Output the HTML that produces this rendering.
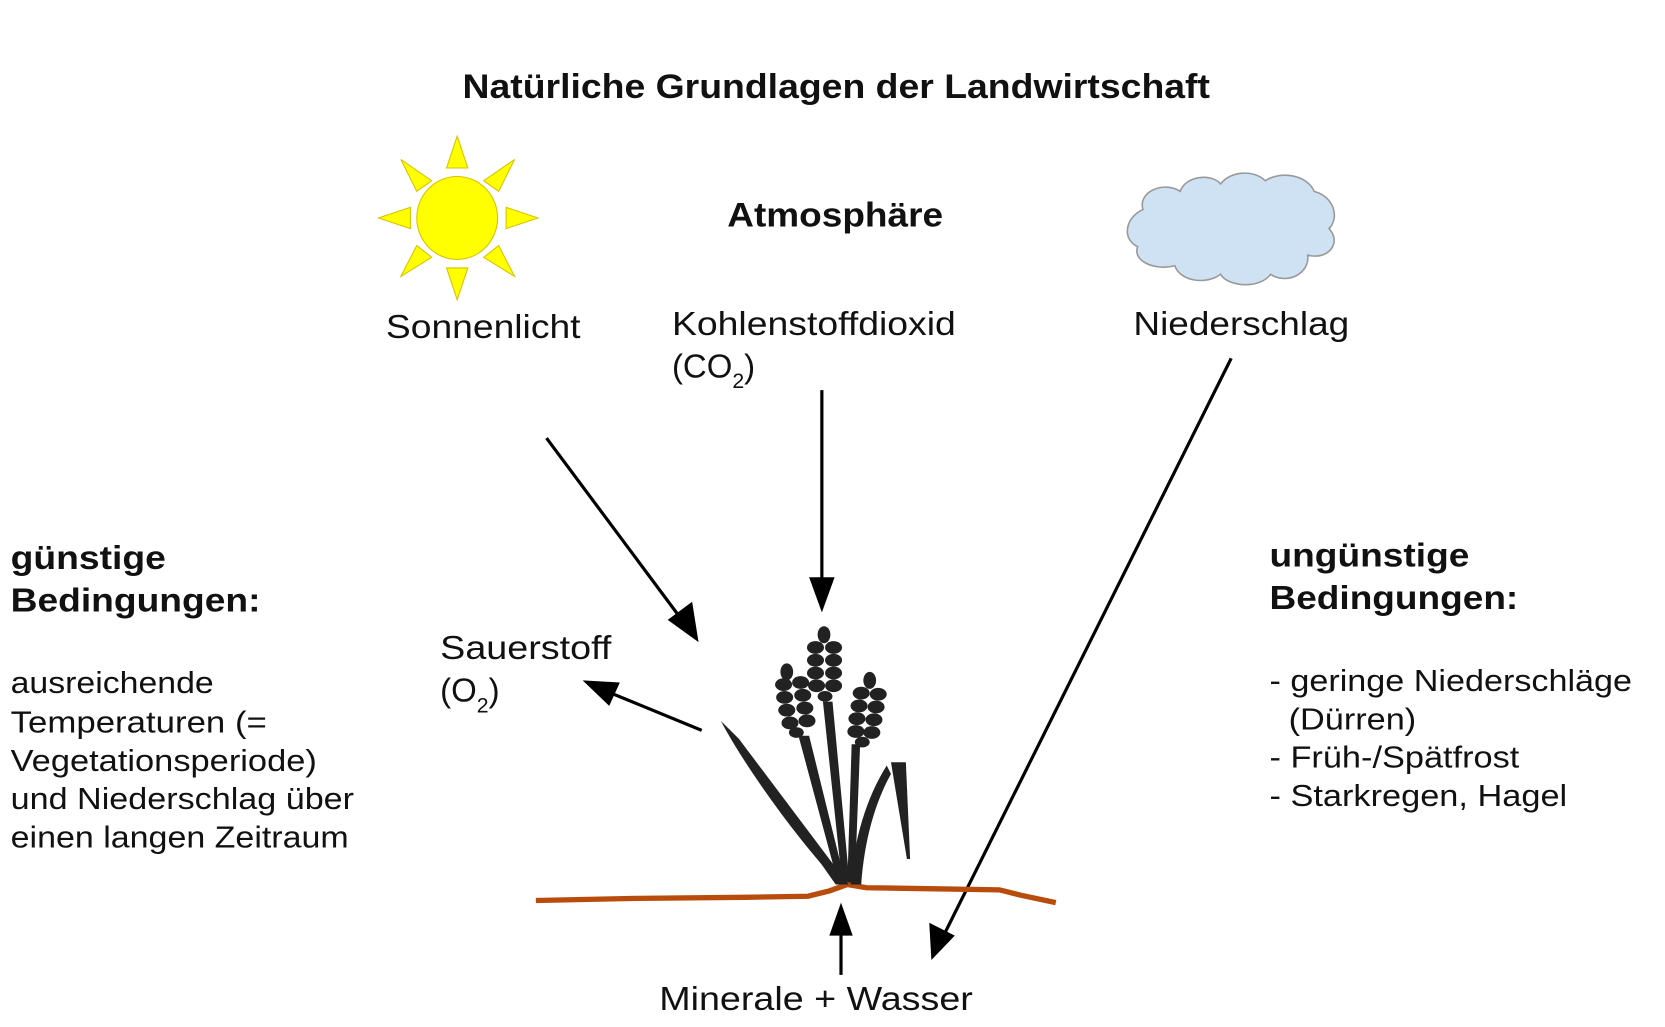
<!DOCTYPE html>
<html><head><meta charset="utf-8"><style>
html,body{margin:0;padding:0;background:#fff;}
svg{display:block;}
text{font-family:"Liberation Sans",Arial,sans-serif;fill:#111;}
.b{font-weight:bold;}
</style></head><body>
<svg width="1665" height="1027" viewBox="0 0 1566 966" preserveAspectRatio="none" xmlns="http://www.w3.org/2000/svg">
<g lengthAdjust="spacingAndGlyphs">
<text class="b" x="435" y="92" font-size="32" textLength="703" lengthAdjust="spacingAndGlyphs">Natürliche Grundlagen der Landwirtschaft</text>
<text class="b" x="684" y="213" font-size="32" textLength="203" lengthAdjust="spacingAndGlyphs">Atmosphäre</text>
</g>

<!-- sun -->
<g fill="#ffff00" stroke="#d9c200" stroke-width="1">
<ellipse cx="430" cy="205" rx="38" ry="39"/>
<polygon points="430,128 420,158 440,158"/>
<polygon points="430,282 420,252 440,252"/>
<polygon points="356,205 386,195 386,215"/>
<polygon points="506,205 476,195 476,215"/>
<polygon points="377,150 406,170 392,180"/>
<polygon points="484,150 455,170 469,180"/>
<polygon points="377,260 392,231 406,242"/>
<polygon points="484,260 469,231 455,242"/>
</g>

<!-- cloud -->
<path d="M1075,197 C1070,180 1095,170 1110,180 C1115,165 1140,163 1148,173 C1158,160 1180,160 1190,170 C1205,160 1230,165 1236,180 C1255,185 1260,205 1250,215 C1262,228 1250,245 1230,240 C1232,258 1210,268 1195,258 C1185,272 1155,270 1148,258 C1135,268 1110,265 1105,250 C1085,255 1065,245 1070,232 C1055,225 1058,205 1075,197 Z" fill="#cfe2f3" stroke="#999" stroke-width="1.5"/>

<text x="363" y="318" font-size="31" textLength="183" lengthAdjust="spacingAndGlyphs">Sonnenlicht</text>
<text x="632" y="315" font-size="31" textLength="267" lengthAdjust="spacingAndGlyphs">Kohlenstoffdioxid</text>
<text x="632" y="355" font-size="31">(CO<tspan font-size="20" dy="10">2</tspan><tspan dy="-10">)</tspan></text>
<text x="1066" y="315" font-size="31" textLength="203" lengthAdjust="spacingAndGlyphs">Niederschlag</text>

<text x="414" y="620" font-size="31" textLength="161" lengthAdjust="spacingAndGlyphs">Sauerstoff</text>
<text x="414" y="660" font-size="31">(O<tspan font-size="20" dy="10">2</tspan><tspan dy="-10">)</tspan></text>

<text class="b" x="10" y="535" font-size="31" textLength="146" lengthAdjust="spacingAndGlyphs">günstige</text>
<text class="b" x="10" y="575" font-size="31" textLength="235" lengthAdjust="spacingAndGlyphs">Bedingungen:</text>
<g font-size="29">
<text x="10" y="652" textLength="191" lengthAdjust="spacingAndGlyphs">ausreichende</text>
<text x="10" y="689" textLength="241" lengthAdjust="spacingAndGlyphs">Temperaturen (=</text>
<text x="10" y="725" textLength="288" lengthAdjust="spacingAndGlyphs">Vegetationsperiode)</text>
<text x="10" y="761" textLength="323" lengthAdjust="spacingAndGlyphs">und Niederschlag über</text>
<text x="10" y="797" textLength="318" lengthAdjust="spacingAndGlyphs">einen langen Zeitraum</text>
</g>

<text class="b" x="1194" y="533" font-size="31" textLength="188" lengthAdjust="spacingAndGlyphs">ungünstige</text>
<text class="b" x="1194" y="573" font-size="31" textLength="234" lengthAdjust="spacingAndGlyphs">Bedingungen:</text>
<g font-size="29">
<text x="1194" y="650" textLength="341" lengthAdjust="spacingAndGlyphs">- geringe Niederschläge</text>
<text x="1212" y="686" textLength="120" lengthAdjust="spacingAndGlyphs">(Dürren)</text>
<text x="1194" y="722" textLength="235" lengthAdjust="spacingAndGlyphs">- Früh-/Spätfrost</text>
<text x="1194" y="758" textLength="280" lengthAdjust="spacingAndGlyphs">- Starkregen, Hagel</text>
</g>

<text x="620" y="950" font-size="31" textLength="295" lengthAdjust="spacingAndGlyphs">Minerale + Wasser</text>

<!-- arrows -->
<g stroke="#000" stroke-width="3" fill="none">
<line x1="514" y1="412" x2="645" y2="588"/>
<line x1="773" y1="367" x2="773" y2="555"/>
<line x1="1158" y1="337" x2="885" y2="885"/>
<line x1="660" y1="687" x2="570" y2="650"/>
<line x1="791" y1="917" x2="791" y2="870"/>
</g>
<g fill="#000">
<polygon points="657,604 628,583 651,566"/>
<polygon points="773,576 761,543 785,543"/>
<polygon points="876,903 874,868 898,880"/>
<polygon points="548,640 583,642 573,664"/>
<polygon points="791,849 780,880 802,880"/>
</g>

<!-- ground -->
<path d="M504,847 L600,845 L700,844 L760,843 L780,838 L797,832 L815,835 L880,836 L940,837 L960,842 L993,849" stroke="#b84c0c" stroke-width="5" fill="none"/>

<!-- plant -->
<g fill="#222">
<path d="M678,678 C700,720 750,790 790,832 L798,832 C760,785 710,720 678,678 Z" />
<polygon points="678,678 695,695 798,832 786,832"/>
<polygon points="751,692 761,692 795,830 788,830"/>
<polygon points="774,660 783,660 799,830 792,830"/>
<polygon points="801,700 809,700 804,830 797,830"/>
<path d="M834,720 C815,750 803,790 800,832 L810,832 C813,790 823,755 838,728 Z"/>
<polygon points="838,717 852,717 856,808 853,808"/>
</g>
<g fill="#222">
<ellipse cx="740" cy="632" rx="6" ry="8"/>
<ellipse cx="737" cy="644" rx="8" ry="6"/><ellipse cx="753" cy="642" rx="8" ry="6"/>
<ellipse cx="738" cy="656" rx="8" ry="6"/><ellipse cx="755" cy="654" rx="8" ry="6"/>
<ellipse cx="740" cy="668" rx="8" ry="6"/><ellipse cx="757" cy="666" rx="8" ry="6"/>
<ellipse cx="743" cy="680" rx="8" ry="6"/><ellipse cx="759" cy="678" rx="8" ry="6"/>
<ellipse cx="749" cy="689" rx="7" ry="5"/>

<ellipse cx="775" cy="597" rx="6" ry="8"/>
<ellipse cx="767" cy="609" rx="8" ry="6"/><ellipse cx="784" cy="609" rx="8" ry="6"/>
<ellipse cx="767" cy="621" rx="8" ry="6"/><ellipse cx="784" cy="621" rx="8" ry="6"/>
<ellipse cx="767" cy="633" rx="8" ry="6"/><ellipse cx="784" cy="633" rx="8" ry="6"/>
<ellipse cx="768" cy="645" rx="8" ry="6"/><ellipse cx="784" cy="645" rx="8" ry="6"/>
<ellipse cx="776" cy="655" rx="7" ry="5"/>

<ellipse cx="818" cy="640" rx="6" ry="8"/>
<ellipse cx="810" cy="652" rx="8" ry="6"/><ellipse cx="826" cy="653" rx="8" ry="6"/>
<ellipse cx="808" cy="664" rx="8" ry="6"/><ellipse cx="824" cy="665" rx="8" ry="6"/>
<ellipse cx="806" cy="676" rx="8" ry="6"/><ellipse cx="822" cy="677" rx="8" ry="6"/>
<ellipse cx="805" cy="688" rx="8" ry="6"/><ellipse cx="820" cy="689" rx="8" ry="6"/>
<ellipse cx="811" cy="698" rx="7" ry="5"/>
</g>
</svg>
</body></html>
